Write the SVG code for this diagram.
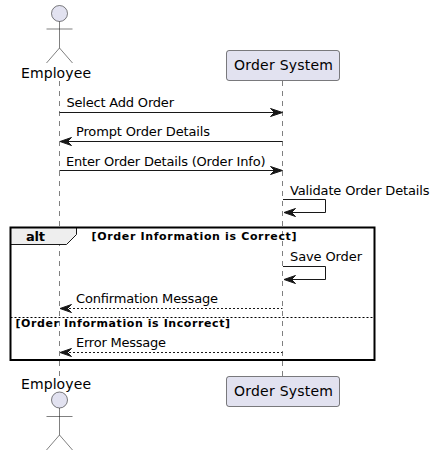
<svg xmlns="http://www.w3.org/2000/svg" width="436" height="456" viewBox="0 0 436 456">
<style>
text{font-family:"DejaVu Sans",sans-serif;fill:#000}
.life{stroke:#181818;stroke-opacity:.55;stroke-width:1;stroke-dasharray:5 5;fill:none}
.act{fill:#E2E2F0;stroke:#181818;stroke-opacity:.55;stroke-width:1}
.body{fill:none;stroke:#181818;stroke-opacity:.55;stroke-width:1}
.box{fill:#E2E2F0;stroke:#181818;stroke-opacity:.55;stroke-width:1}
.msg{fill:none;stroke:#181818;stroke-width:1}
.dash{stroke-dasharray:2 2}
.head{fill:#181818;stroke:#181818;stroke-width:1}
.m{font-size:13px}
.n{font-size:14px}
.g{font-size:11px;font-weight:bold}
</style>
<g id="connectors">
<path class="life" d="M59.5 81V376"/>
<path class="life" d="M282.5 81V376"/>
<path class="msg" d="M59.5 112.5H281"/><polygon class="head" points="270.5,108.500 282.5,112.500 270.5,116.500 274.5,112.500"/>
<path class="msg" d="M61 141.5H282.5"/><polygon class="head" points="71.5,137.500 60,141.500 71.5,145.500 67.5,141.500"/>
<path class="msg" d="M59.5 170.5H281"/><polygon class="head" points="270.5,166.500 282.5,170.500 270.5,174.500 274.5,170.500"/>
<path class="msg" d="M283 199.5H325.5V212.5H285"/><polygon class="head" points="295.5,208.500 284,212.500 295.5,216.500 291.5,212.500"/>
<path class="msg" d="M283 266.5H325.5V279.5H285"/><polygon class="head" points="295.5,275.500 284,279.500 295.5,283.500 291.5,279.500"/>
<path class="msg dash" d="M61 308.5H282.5"/><polygon class="head" points="71.5,304.500 60,308.500 71.5,312.500 67.5,308.500"/>
<path class="msg dash" d="M61 352.5H282.5"/><polygon class="head" points="71.5,348.500 60,352.500 71.5,356.500 67.5,352.500"/>
</g>
<g id="alt-frame">
<path d="M10.5 227.5H76.5V234.5L66.5 244.5H10.5Z" fill="#EEEEEE" stroke="#181818" stroke-width="1"/>
<rect x="10.5" y="227.5" width="364" height="132.5" fill="none" stroke="#000" stroke-width="2"/>
<path d="M10.5 317.5H374.5" fill="none" stroke="#000" stroke-width="1" stroke-dasharray="2 2"/>
<text x="26" y="241" font-size="13" font-weight="bold" textLength="19">alt</text>
<text class="g" x="91.500" y="240" textLength="205" lengthAdjust="spacing">[Order Information is Correct]</text>
<text class="g" x="15.500" y="327" textLength="214.500" lengthAdjust="spacing">[Order Information is Incorrect]</text>
</g>
<g id="employee-top">
<circle class="act" cx="59.5" cy="13.5" r="8"/>
<path class="body" d="M59.5 21.5V48M46.5 29H72.5M59.5 48L46.5 63M59.5 48L72.5 63"/>
<text class="n" x="21" y="78" textLength="70">Employee</text>
</g>
<g id="order-system-top">
<rect class="box" x="226.5" y="50.5" width="113" height="30" rx="2.5"/>
<text class="n" x="234" y="70" textLength="99">Order System</text>
</g>
<g id="employee-bottom">
<text class="n" x="21" y="389" textLength="70">Employee</text>
<circle class="act" cx="59.5" cy="400" r="8"/>
<path class="body" d="M59.5 408V435M46.5 416.500H72.500M59.5 435L46.500 450M59.5 435L72.500 450"/>
</g>
<g id="order-system-bottom">
<rect class="box" x="226.5" y="376.500" width="113" height="30" rx="2.5"/>
<text class="n" x="234" y="396" textLength="99">Order System</text>
</g>
<g id="labels">
<text class="m" x="66.500" y="107" textLength="107.500">Select Add Order</text>
<text class="m" x="76" y="136" textLength="134">Prompt Order Details</text>
<text class="m" x="66" y="165.500" textLength="199.500">Enter Order Details (Order Info)</text>
<text class="m" x="290" y="195" textLength="139.500">Validate Order Details</text>
<text class="m" x="290" y="261" textLength="72">Save Order</text>
<text class="m" x="76" y="303" textLength="142">Confirmation Message</text>
<text class="m" x="76" y="347" textLength="90">Error Message</text>
</g>
</svg>
